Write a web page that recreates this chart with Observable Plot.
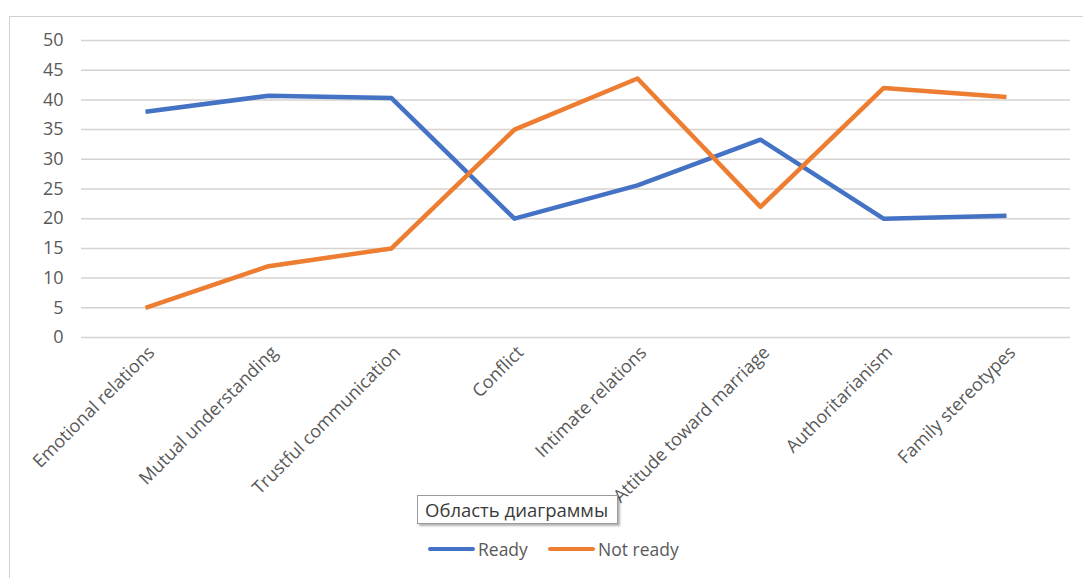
<!DOCTYPE html>
<html>
<head>
<meta charset="utf-8">
<script src="https://cdn.jsdelivr.net/npm/d3@7"></script>
<script src="https://cdn.jsdelivr.net/npm/@observablehq/plot@0.6"></script>
<style>
  html, body { margin: 0; padding: 0; background: #fff; }
  #wrap { position: relative; width: 1083px; height: 578px; overflow: hidden; font-family: "Open Sans", sans-serif; }
  #frame { position: absolute; left: 9px; top: 16px; width: 1100px; height: 600px; border-left: 1.5px solid #d4d0cc; border-top: 1.5px solid #d4d0cc; }
  #tip { position: absolute; left: 417px; top: 495px; width: 201px; height: 29px; border: 1px solid #9a9a9a; background: #fff; box-shadow: 2px 2px 2px rgba(0,0,0,0.3); font-size: 18.5px; color: #3a3a3a; line-height: 27px; padding-left: 7px; box-sizing: border-box; white-space: nowrap; overflow: hidden; }
  .leg { position: absolute; top: 537px; font-size: 17.5px; color: #595959; display: flex; align-items: center; }
  .leg span.sw { display: inline-block; width: 47px; height: 4px; margin-right: 3px; border-radius: 2px; }
</style>
</head>
<body>
<div id="wrap">
  <div id="frame"></div>
  <div id="chart"></div>
  <div id="tip">Область диаграммы</div>
  <div class="leg" style="left:428px"><span class="sw" style="background:#4472C4"></span>Ready</div>
  <div class="leg" style="left:548px"><span class="sw" style="background:#ED7D31"></span>Not ready</div>
</div>
<script>
const categories = ["Emotional relations", "Mutual understanding", "Trustful communication", "Conflict", "Intimate relations", "Attitude toward marriage", "Authoritarianism", "Family stereotypes"];
const ready = [38.0, 40.7, 40.3, 20.0, 25.6, 33.3, 20.0, 20.5];
const notReady = [5.0, 12.0, 15.0, 35.0, 43.6, 22.0, 42.0, 40.5];
const yTicks = [0, 5, 10, 15, 20, 25, 30, 35, 40, 45, 50];
const seriesNames = ["Ready", "Not ready"];
const seriesColors = ["#4472C4", "#ED7D31"];

const rows = [];
categories.forEach((c, i) => {
  rows.push({cat: c, value: ready[i], series: seriesNames[0]});
  rows.push({cat: c, value: notReady[i], series: seriesNames[1]});
});

const chart = Plot.plot({
  width: 1083,
  height: 578,
  marginLeft: 81,
  marginRight: 13,
  marginTop: 40,
  marginBottom: 241,
  style: {background: "transparent", fontFamily: "'Open Sans', sans-serif", fontSize: "15px", color: "#595959"},
  x: {type: "point", domain: categories, padding: 0.5, label: null},
  y: {domain: [0, 50], label: null},
  color: {domain: seriesNames, range: seriesColors},
  marks: [
    Plot.ruleY(yTicks, {stroke: "#d6d2cf", strokeWidth: 1.5}),
    Plot.axisY(yTicks, {tickSize: 0, tickPadding: 18, label: null, fontSize: 18}),
    Plot.axisX({tickSize: 0, tickRotate: -45, tickPadding: 12, dx: 6, label: null, fontSize: 18}),
    Plot.line(rows, {x: "cat", y: "value", stroke: "series", strokeWidth: 4.5, strokeLinejoin: "round", strokeLinecap: "butt"})
  ]
});
document.getElementById("chart").appendChild(chart);
</script>
</body>
</html>
